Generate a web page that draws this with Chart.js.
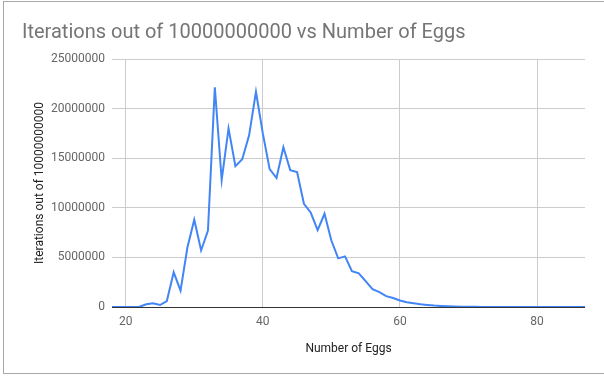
<!DOCTYPE html>
<html>
<head>
<meta charset="utf-8">
<script src="https://cdn.jsdelivr.net/npm/chart.js@4/dist/chart.umd.min.js"></script>
<style>
  html, body { margin: 0; padding: 0; background: #fff; overflow: hidden; }
  #frame {
    position: absolute; left: 3px; top: 1px; width: 640px; height: 371px;
    border-left: 1px solid #a8a8a8; border-top: 1px solid #a8a8a8; border-bottom: 1px solid #a8a8a8;
    background: #fff;
  }
  #chart { position: absolute; left: 0; top: 0; }
</style>
</head>
<body>
<div id="frame"><canvas id="chart" width="600" height="371"></canvas></div>
<script>
// number of eggs (x) and iterations hit (y)
const eggCounts = [18, 19, 20, 21, 22, 23, 24, 25, 26, 27, 28, 29, 30, 31, 32, 33, 34, 35, 36, 37,
  38, 39, 40, 41, 42, 43, 44, 45, 46, 47, 48, 49, 50, 51, 52, 53, 54, 55, 56, 57,
  58, 59, 60, 61, 62, 63, 64, 65, 66, 67, 68, 69, 70, 71, 72, 73, 74, 75, 76, 77,
  78, 79, 80, 81, 82, 83, 84, 85, 86, 87];
const iterations = [0, 0, 0, 0, 20000, 270000, 370000, 200000, 600000, 3500000,
  1650000, 6000000, 8800000, 5700000, 7700000, 22150000, 12800000, 18000000, 14200000, 14900000,
  17300000, 21700000, 17500000, 13900000, 13000000, 16100000, 13800000, 13600000, 10400000, 9500000,
  7750000, 9400000, 6700000, 4900000, 5100000, 3600000, 3400000, 2600000, 1800000, 1500000,
  1100000, 900000, 650000, 470000, 370000, 270000, 200000, 140000, 100000, 70000,
  50000, 35000, 25000, 15000, 10000, 7000, 5000, 3000, 2000, 1000,
  800, 500, 300, 200, 100, 60, 40, 20, 10, 5];
const xTicks = [20, 40, 60, 80];
const yTicks = [0, 5000000, 10000000, 15000000, 20000000, 25000000];

const points = eggCounts.map((n, i) => ({ x: n, y: iterations[i] }));

Chart.defaults.font.family = "Roboto, 'Noto Sans', sans-serif";

new Chart(document.getElementById("chart").getContext("2d"), {
  type: "line",
  data: {
    datasets: [
      {
        label: "Iterations",
        data: points,
        borderColor: "#4285f4",
        borderWidth: 2,
        pointRadius: 0,
        tension: 0,
        fill: false,
      },
    ],
  },
  options: {
    responsive: false,
    animation: false,
    layout: { padding: { left: 18, right: 19, top: 0, bottom: 0 } },
    plugins: {
      legend: { display: false },
      tooltip: { enabled: false },
      title: {
        display: true,
        text: "Iterations out of 10000000000 vs Number of Eggs",
        align: "start",
        color: "#757575",
        font: { size: 20, weight: "normal" },
        padding: { top: 19, bottom: 14 },
      },
    },
    scales: {
      x: {
        type: "linear",
        min: 18,
        max: 87,
        afterBuildTicks: (axis) => {
          axis.ticks = xTicks.map((v) => ({ value: v }));
        },
        afterFit: (axis) => {
          axis.height = 66;
        },
        grid: { color: "#cccccc", drawTicks: false },
        border: { display: false },
        ticks: { color: "#666666", font: { size: 12 }, padding: 8, maxRotation: 0 },
        title: {
          display: true,
          text: "Number of Eggs",
          color: "#222222",
          font: { size: 12 },
          padding: { top: 0, bottom: 17 },
        },
      },
      y: {
        min: 0,
        max: 25000000,
        afterBuildTicks: (axis) => {
          axis.ticks = yTicks.map((v) => ({ value: v }));
        },
        afterFit: (axis) => {
          axis.width = 90;
        },
        grid: {
          color: (ctx) => (ctx.tick && ctx.tick.value === 0 ? "#333333" : "#cccccc"),
          drawTicks: false,
        },
        border: { display: false },
        ticks: {
          color: "#666666",
          font: { size: 12 },
          padding: 7,
          callback: (v) => String(v),
        },
        title: {
          display: true,
          text: "Iterations out of 10000000000",
          color: "#222222",
          font: { size: 12 },
          padding: { top: 11, bottom: 0 },
        },
      },
    },
  },
});
</script>
</body>
</html>
